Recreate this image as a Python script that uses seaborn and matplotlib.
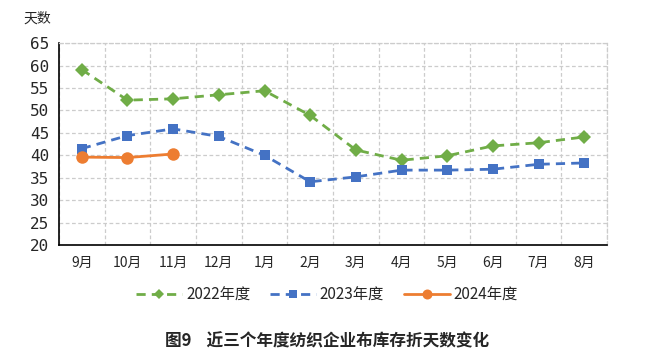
import matplotlib
matplotlib.use("Agg")
import matplotlib.pyplot as plt
import seaborn as sns
import numpy as np
import pandas as pd

months = ["9月", "10月", "11月", "12月", "1月", "2月", "3月", "4月", "5月", "6月", "7月", "8月"]
y2022 = [59.1, 52.3, 52.6, 53.5, 54.4, 48.9, 41.2, 38.9, 39.9, 42.1, 42.8, 44.1]
y2023 = [41.5, 44.4, 45.9, 44.2, 40.0, 34.1, 35.2, 36.7, 36.7, 36.9, 38.0, 38.3]
y2024 = [39.6, 39.5, 40.3]
series = ["2022年度", "2023年度", "2024年度"]

sns.set_style("white")
plt.rcParams['font.family'] = ['Noto Sans CJK SC', 'DejaVu Sans']

df = pd.concat([
    pd.DataFrame({"x": np.arange(len(y2022)), "val": y2022, "series": series[0]}),
    pd.DataFrame({"x": np.arange(len(y2023)), "val": y2023, "series": series[1]}),
    pd.DataFrame({"x": np.arange(len(y2024)), "val": y2024, "series": series[2]}),
])

colors = {"2022年度": "#70AD47", "2023年度": "#4472C4", "2024年度": "#ED7D31"}
markers = {"2022年度": "D", "2023年度": "s", "2024年度": "o"}
msize = {"2022年度": 7, "2023年度": 7.5, "2024年度": 9}

fig = plt.figure(figsize=(6.54, 3.63), dpi=100)
ax = fig.add_axes([0.0902, 0.325, 0.838, 0.556])

for s in series:
    sub = df[df["series"] == s]
    ls = "--" if s != "2024年度" else "-"
    sns.lineplot(data=sub, x="x", y="val", ax=ax, color=colors[s],
                 marker=markers[s], markersize=msize[s], markeredgewidth=0,
                 linewidth=2, linestyle=ls, label=s)
    if s != "2024年度":
        ax.lines[-1].set_dashes((3.3, 2.2))

ax.set_xlim(-0.5, len(months) - 0.5)
ax.set_ylim(20, 65)
ax.set_yticks(np.arange(20, 66, 5))
ax.set_xticks(np.arange(-0.5, len(months), 1))
ax.set_xticklabels([])
ax.set_xticks(np.arange(len(months)), minor=True)
ax.set_xticklabels(months, minor=True, fontsize=10)
ax.tick_params(axis="x", which="minor", length=0, pad=8)
ax.tick_params(axis="x", which="major", length=4, width=1, color="black", direction="out")
ax.tick_params(axis="y", length=4, width=1, color="black", direction="out", labelsize=11.5, pad=3)
for lab in ax.get_yticklabels():
    lab.set_family("DejaVu Sans Mono")

ax.grid(True, which="major", color="#CCCCCC", linestyle=(0, (3, 2)), linewidth=0.9)
ax.set_axisbelow(True)
for side in ["top", "right"]:
    ax.spines[side].set_color("#CCCCCC")
    ax.spines[side].set_linestyle((0, (3, 2)))
    ax.spines[side].set_linewidth(0.9)
for side in ["left", "bottom"]:
    ax.spines[side].set_color("black")
    ax.spines[side].set_linewidth(1.2)

ax.set_xlabel("")
ax.set_ylabel("")
ax.text(-0.015, 1.124, "天数", transform=ax.transAxes, fontsize=10, ha="right", va="center")

handles, labels = ax.get_legend_handles_labels()
ax.legend_.remove()
fig.legend(handles, labels, loc="center", bbox_to_anchor=(0.5, 0.187), ncol=3,
           frameon=False, fontsize=11, handlelength=3.0, columnspacing=1.3,
           handletextpad=0.25, markerscale=0.8)

fig.text(0.5, 0.06, "图9    近三个年度纺织企业布库存折天数变化", ha="center", va="center",
         fontsize=12, fontweight="bold")

fig.savefig("out.png", dpi=100)
